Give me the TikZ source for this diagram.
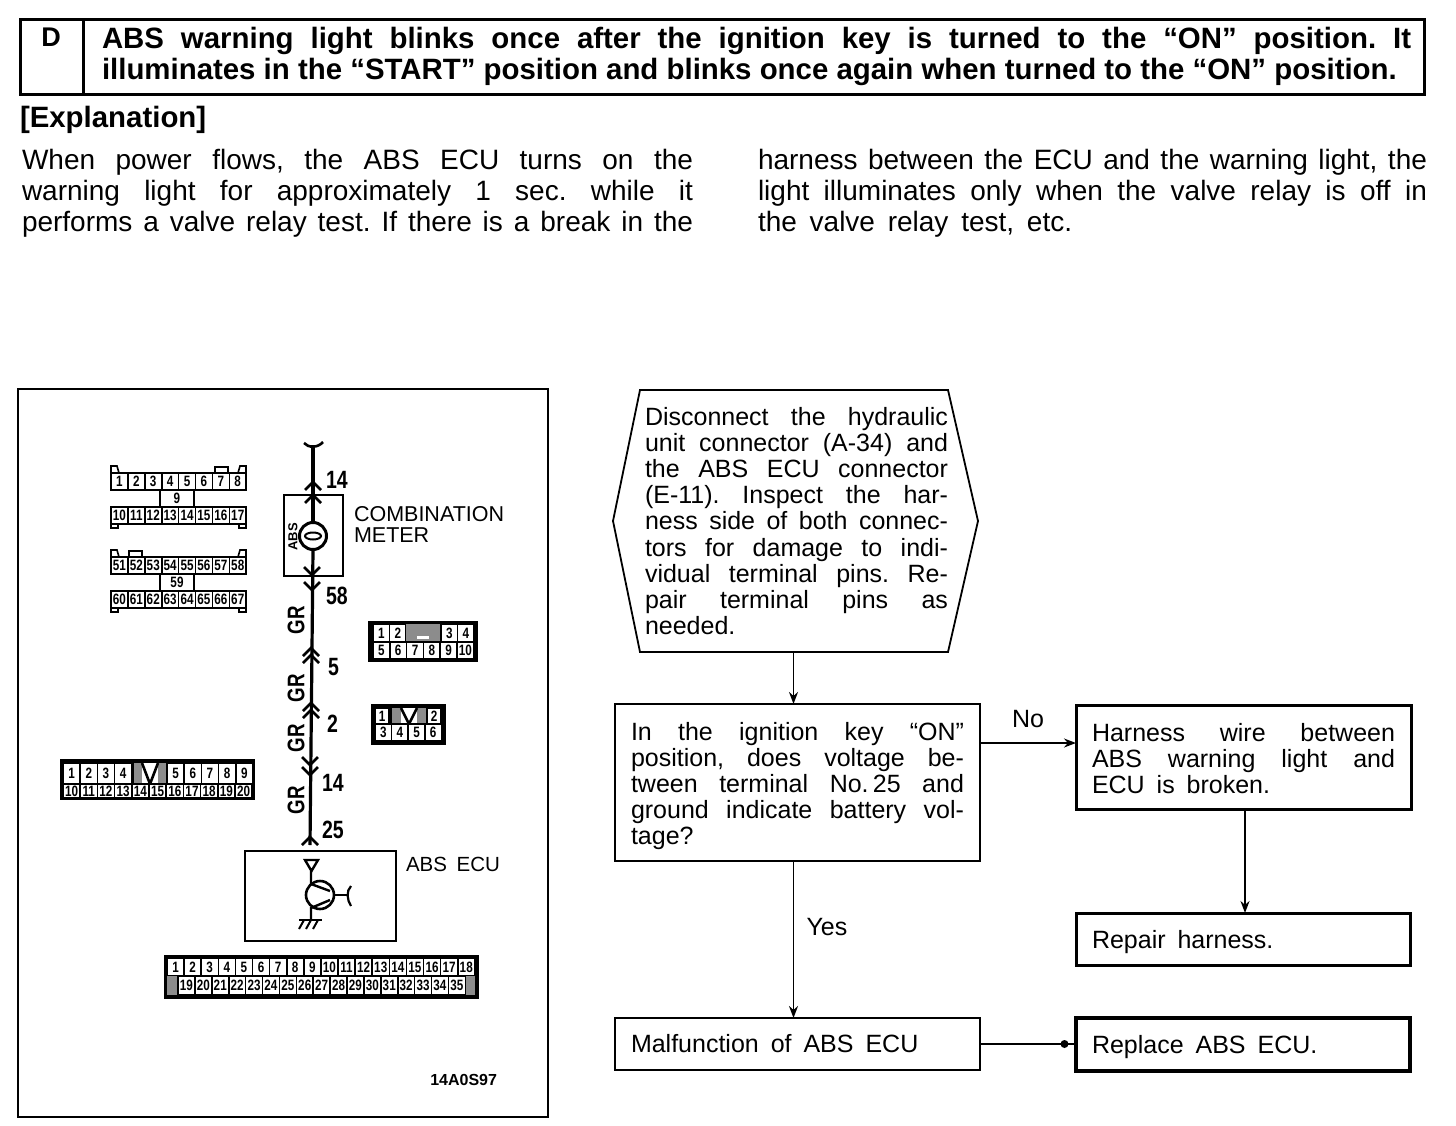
\documentclass[tikz,border=0pt]{standalone}
\usepackage{fontspec}
\setmainfont{Liberation Sans}
\usetikzlibrary{arrows.meta,positioning,calc}
\newcommand{\px}[1]{\fontsize{#1}{#1}\selectfont}
\newcommand{\pxl}[2]{\fontsize{#1}{#2}\selectfont}
\newcommand{\narrowtxt}[1]{\scalebox{.78}[1]{#1}}
% one row of connector pins, left to right
\newcommand{\pinrow}[6]{%
  \foreach \n [count=\i from 0] in {#6}
    \node[pin,minimum width=#4pt,minimum height=#5pt] (#1\n) at ({#2+\i*#4},#3) {\narrowtxt{\n}};}
% white plug with two pin rows and the middle pin
\newcommand{\plugpair}[6]{%
  \draw[plugline] (111,#1) -- (111,#1-7) -- (117,#1-7) -- (119,#1);
  \draw[plugline] (246,#1) -- (246,#1-7) -- (240,#1-7) -- (238,#1);
  \draw[plugline] (#5,#1) -- (#5,#1-6) -- (#5+13,#1-6) -- (#5+13,#1);
  \draw[plugline] (111,#1+51) -- (111,#1+55) -- (118,#1+55) -- (118,#1+51);
  \draw[plugline] (246,#1+51) -- (246,#1+55) -- (239,#1+55) -- (239,#1+51);
  \pinrow{#6}{111}{#1}{16.9}{17}{#2}
  \node[pin,minimum width=34pt,minimum height=17pt] (#6mid) at (160,#1+17) {\narrowtxt{#3}};
  \pinrow{#6}{111}{#1+34}{16.9}{17}{#4}}
\tikzset{
  x=1pt,y=-1pt,
  every node/.style={outer sep=0pt},
  pin/.style={draw,line width=1.6pt,fill=white,anchor=north west,inner sep=0pt,font=\px{15}\bfseries},
  plugline/.style={line width=1.6pt},
  plate/.style={fill=black,draw=black,anchor=north west,inner sep=0pt},
  shade/.style={fill=black!45,draw=none},
  wire/.style={line width=3.2pt},
  chev/.style={line width=2.6pt},
  thin box/.style={draw,line width=1.8pt,anchor=north west,inner xsep=16pt,inner ysep=0pt,align=justify,font=\pxl{25}{26.2}},
  heavy box/.style={thin box,line width=3pt},
  arr/.style={-{Stealth[length=12pt,width=9pt]},line width=1.8pt},
  lbl/.style={font=\px{25}\bfseries,inner sep=0pt}}
\newcommand{\chevup}[2]{\draw[chev] (#1-8,#2+8) -- (#1,#2) -- (#1+8,#2+8);}
\newcommand{\chevdown}[2]{\draw[chev] (#1-8,#2-8) -- (#1,#2) -- (#1+8,#2-8);}
\newcommand{\wsp}{\hspace{5pt}}
\begin{document}
\frenchspacing
\begin{tikzpicture}
  \useasboundingbox (0,0) rectangle (1456,1126);
  % heading
  \node[draw,line width=3pt,anchor=north west,minimum width=1404pt,minimum height=75pt,inner sep=0pt] (head) at (20,20) {};
  \node[draw,line width=3pt,anchor=north west,minimum width=63pt,minimum height=75pt,inner sep=0pt] (letter) at (20,20) {};
  \node[font=\px{27}\bfseries,inner sep=0pt] (letterd) at (51,37) {D};
  \node[anchor=north west,text width=1309pt,inner sep=0pt,align=justify,font=\pxl{29.4}{31}\bfseries] (title) at (102,27.5)
    {ABS warning light blinks once after the ignition key is turned to the “ON” position. It\linebreak
     \mbox{illuminates in the “START” position and blinks once again when turned to the “ON” position.}};
  \node[anchor=west,inner sep=0pt,font=\px{29.4}\bfseries] (explain) at (20,120) {[Explanation]};
  \node[anchor=north west,text width=671pt,inner sep=0pt,align=justify,font=\pxl{28}{31}] (textleft) at (22,149)
    {When power flows, the ABS ECU turns on the\linebreak
     warning light for approximately 1 sec. while it\linebreak
     performs a valve relay test. If there is a break in the\linebreak};
  \node[anchor=north west,text width=669pt,inner sep=0pt,align=justify,font=\pxl{28}{31}] (textright) at (758,149)
    {harness between the ECU and the warning light, the\linebreak
     light illuminates only when the valve relay is off in\linebreak
     the\wsp{} valve\wsp{} relay\wsp{} test,\wsp{} etc.};
  % wiring frame
  \node[draw,line width=2.6pt,anchor=north west,minimum width=530pt,minimum height=728pt,inner sep=0pt] (frame) at (18,389) {};
  \plugpair{473}{1,2,3,4,5,6,7,8}{9}{10,11,12,13,14,15,16,17}{215}{pa}
  \plugpair{557}{51,52,53,54,55,56,57,58}{59}{60,61,62,63,64,65,66,67}{129}{pb}
  % black connectors
  \node[plate,minimum width=109pt,minimum height=40pt] (platec) at (368,621) {};
  \pinrow{pc}{373}{624}{16.5}{18}{1,2}
  \fill[shade] (406,624) rectangle (440,642);
  \fill[white] (417,636) rectangle (429,639);
  \pinrow{pc}{441}{624}{16.5}{18}{3,4}
  \pinrow{pc}{373}{642}{16.8}{17}{5,6,7,8,9,10}
  \node[plate,minimum width=74pt,minimum height=40pt] (plated) at (371,704) {};
  \pinrow{pd}{375}{708}{14}{16}{1}
  \fill[shade] (392,708) rectangle (426,724);
  \fill[white] (401,708) rectangle (417,724);
  \draw[line width=2.6pt] (401,708) -- (409,724) -- (417,708);
  \pinrow{pd}{427}{708}{14}{16}{2}
  \pinrow{pd}{375}{724}{16.6}{17}{3,4,5,6}
  \node[plate,minimum width=194pt,minimum height=40pt] (platee) at (60,759) {};
  \pinrow{pe}{63}{763}{17.2}{21}{1,2,3,4}
  \fill[shade] (134,763) rectangle (166,784);
  \fill[white] (142,763) rectangle (158,784);
  \draw[line width=2.6pt] (142,763) -- (150,784) -- (158,763);
  \pinrow{pe}{167}{763}{17.2}{21}{5,6,7,8,9}
  \pinrow{pe}{63}{784}{17.2}{14}{10,11,12,13,14,15,16,17,18,19,20}
  \node[plate,minimum width=314pt,minimum height=43pt] (platef) at (164,955) {};
  \pinrow{pf}{167}{958}{17.1}{18}{1,2,3,4,5,6,7,8,9,10,11,12,13,14,15,16,17,18}
  \fill[shade] (167,976) rectangle (178,995);
  \fill[shade] (466,976) rectangle (475,995);
  \pinrow{pg}{178}{976}{16.9}{19}{19,20,21,22,23,24,25,26,27,28,29,30,31,32,33,34,35}
  % wire through meter and ECU
  \node[draw,line width=2.6pt,anchor=north west,minimum width=59pt,minimum height=81pt,inner sep=0pt] (meter) at (284,495) {};
  \node[draw,circle,line width=3pt,fill=white,minimum size=27pt,inner sep=0pt] (lamp) at (313,536) {};
  \draw[line width=2pt] (lamp.center) ellipse [x radius=8,y radius=3.5];
  \node[rotate=90,font=\px{13}\bfseries,inner sep=0pt] (absmark) at (293,537) {ABS};
  \node[draw,line width=2.6pt,anchor=north west,minimum width=151pt,minimum height=90pt,inner sep=0pt] (ecu) at (245,851) {};
  \coordinate (wiretop) at (313,445);
  \coordinate (wirebot) at (310,845);
  \draw[line width=2.6pt] (304,443) .. controls (308,448) and (318,448) .. (323,442);
  \draw[wire] (wiretop) -- (lamp.north);
  \draw[wire] (lamp.south) -- (wirebot);
  \chevup{313}{482} \chevup{313}{495}
  \chevdown{312}{575} \chevdown{312}{590}
  \chevup{311}{648} \chevup{311}{655}
  \chevup{311}{703} \chevup{311}{710}
  \chevdown{310}{765} \chevdown{310}{775}
  \chevup{310}{837}
  % wire labels
  \node[lbl,anchor=west] (pinlamp) at (326,480) {\narrowtxt{14}};
  \node[lbl,anchor=west] (pinlow) at (326,596) {\narrowtxt{58}};
  \node[lbl,anchor=west] (pinfive) at (328,667) {\narrowtxt{5}};
  \node[lbl,anchor=west] (pintwo) at (327,724) {\narrowtxt{2}};
  \node[lbl,anchor=west] (pinfourteen) at (322,783) {\narrowtxt{14}};
  \node[lbl,anchor=west] (pinecu) at (322,830) {\narrowtxt{25}};
  \foreach \y in {620,688,738,800}
    \node[lbl,rotate=90,font=\px{24}\bfseries] (gr\y) at (296,\y) {\narrowtxt{GR}};
  \node[anchor=north west,inner sep=0pt,align=left,font=\pxl{21.5}{21}] (metername) at (354,506) {COMBINATION\\METER};
  \node[anchor=west,inner sep=0pt,font=\px{20.5}] (ecuname) at (406,864) {ABS\hspace{4pt} ECU};
  \node[anchor=east,inner sep=0pt,font=\px{16}\bfseries] (figno) at (497,1080) {14A0S97};
  % transistor
  \node[draw,circle,line width=2.6pt,minimum size=28pt,inner sep=0pt] (trans) at (320,895) {};
  \draw[line width=2.4pt] (305,860) -- (318,860) -- (311.5,871) -- cycle;
  \draw[line width=2.4pt] (311,871) -- (311,884) -- (330,891);
  \draw[line width=2.4pt] (330,900) -- (311,908) -- (311,920);
  \draw[line width=2.4pt] (trans.east) -- (349,895);
  \draw[line width=2.2pt] (351,886) .. controls (346,891) and (347,900) .. (351,906);
  \draw[line width=2.6pt] (299,920) -- (322,920);
  \foreach \x in {304,311,318}
    \draw[line width=2pt] (\x,920) -- (\x-5,929);
  % flow chart
  \node[anchor=north west,minimum height=262pt,inner sep=0pt,text width=303pt,align=justify,font=\pxl{25}{26.2}] (inspect) at (645,390)
    {Disconnect the hydraulic\linebreak unit connector (A-34) and\linebreak the ABS ECU connector\linebreak
     (E-11). Inspect the har-\linebreak ness side of both connec-\linebreak tors for damage to indi-\linebreak
     vidual terminal pins. Re-\linebreak pair terminal pins as\linebreak needed.};
  \draw[line width=1.8pt] ($(inspect.north west)+(-5,0)$) -- (inspect.north east) -- ($(inspect.east)+(30,0)$)
    -- (inspect.south east) -- ($(inspect.south west)+(-5,0)$) -- ($(inspect.west)+(-32,0)$) -- cycle;
  \node[thin box,text width=333pt,minimum height=157pt] (check) at (615,704)
    {In the ignition key “ON”\linebreak position, does voltage be-\linebreak tween terminal No.\,25 and\linebreak
     ground indicate battery vol-\linebreak tage?\par\kern-7pt};
  \node[heavy box,text width=303pt,minimum height=104pt] (broken) at (1076,705)
    {Harness wire between\linebreak ABS warning light and\linebreak ECU\wsp{} is\wsp{} broken.\par\kern-3pt};
  \node[heavy box,text width=302pt,minimum height=52pt] (repair) at (1076,913) {Repair\wsp{} harness.\par\kern-7pt};
  \node[thin box,text width=333pt,minimum height=52pt] (fault) at (615,1018) {Malfunction\wsp{} of\wsp{} ABS\wsp{} ECU};
  \node[heavy box,line width=3.6pt,text width=302pt,minimum height=53pt] (replace) at (1076,1018) {Replace\wsp{} ABS\wsp{} ECU.\par\kern-6pt};
  \coordinate (trunk) at (793.5,680);
  \coordinate (branch) at (1245,860);
  \coordinate (noline) at (1028,743);
  \draw[arr] (inspect.south -| trunk) -- (check.north -| trunk);
  \draw[arr] (check.east |- noline) -- node[font=\px{25},inner sep=0pt,above=15pt] (no) {No} (broken.west |- noline);
  \draw[arr] (broken.south -| branch) -- (repair.north -| branch);
  \draw[arr] (check.south -| trunk) -- node[font=\px{25},inner sep=0pt,right=13pt,pos=.42] (yes) {Yes} (fault.north -| trunk);
  \draw[line width=1.8pt] (fault.east) -- node[circle,fill,inner sep=0pt,minimum size=8pt,pos=.88] (dot) {} (fault.east -| replace.west);
\end{tikzpicture}
\end{document}
